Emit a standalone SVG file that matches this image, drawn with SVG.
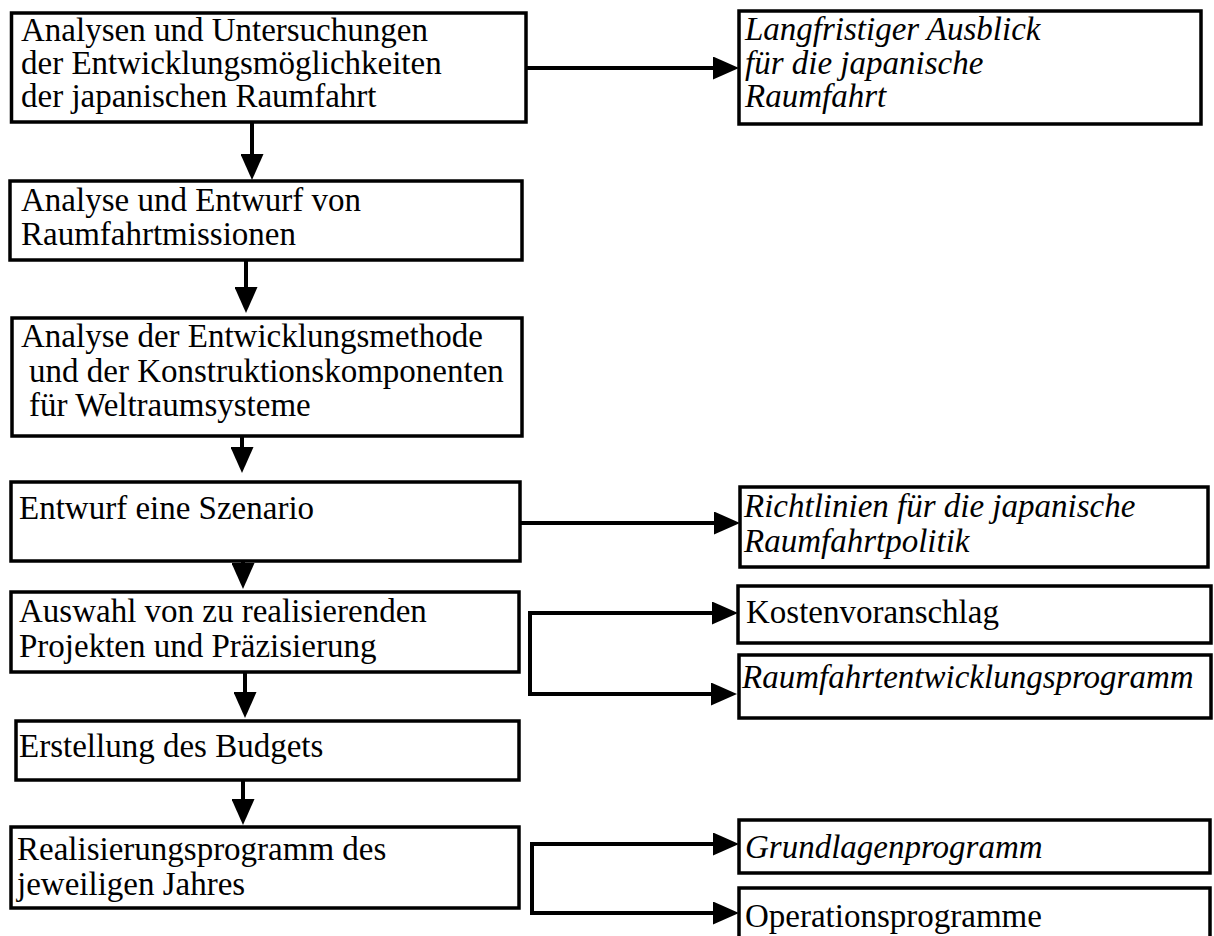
<svg xmlns="http://www.w3.org/2000/svg" width="1214" height="936" viewBox="0 0 1214 936">
<style>
.box{fill:#fff;stroke:#000;stroke-width:3.5}
.t{font-family:"Liberation Serif","Times New Roman",serif;font-size:33px;fill:#000}
.i{font-style:italic}
.c{fill:none;stroke:#000;stroke-width:4;marker-end:url(#ah)}
</style>
<defs>
<marker id="ah" markerUnits="userSpaceOnUse" markerWidth="26" markerHeight="23" refX="16" refY="11.5" orient="auto" viewBox="0 0 26 23">
<path d="M0,0 L26,11.5 L0,23 z" fill="#000"/>
</marker>
</defs>
<rect width="1214" height="936" fill="#fff"/>
<g id="connectors">
<path class="c" d="M252,122 V170"/>
<path class="c" d="M246,260 V303"/>
<path class="c" d="M242,436 V463"/>
<path class="c" d="M243,561 V579"/>
<path class="c" d="M245,672 V708"/>
<path class="c" d="M243,780 V815"/>
<path class="c" d="M526,68 H729"/>
<path class="c" d="M520,523 H730"/>
<path class="c" d="M530,654 V613 H728"/>
<path class="c" d="M530,654 V694 H727"/>
<path class="c" d="M532,878 V844 H729"/>
<path class="c" d="M532,878 V913 H729"/>
</g>
<g id="n1"><rect class="box" x="11.5" y="13" width="514.5" height="109"/>
<text class="t" x="21" y="41">Analysen und Untersuchungen</text>
<text class="t" x="21" y="74">der Entwicklungsmöglichkeiten</text>
<text class="t" x="21" y="107">der japanischen Raumfahrt</text></g>
<g id="n2"><rect class="box" x="10" y="181" width="512" height="79"/>
<text class="t" x="21" y="211">Analyse und Entwurf von</text>
<text class="t" x="21" y="245">Raumfahrtmissionen</text></g>
<g id="n3"><rect class="box" x="12" y="318" width="510" height="118"/>
<text class="t" x="21" y="347">Analyse der Entwicklungsmethode</text>
<text class="t" x="29" y="382">und der Konstruktionskomponenten</text>
<text class="t" x="29" y="416">für Weltraumsysteme</text></g>
<g id="n4"><rect class="box" x="11" y="482" width="509" height="79"/>
<text class="t" x="19" y="519">Entwurf eine Szenario</text></g>
<g id="n5"><rect class="box" x="11" y="592" width="508" height="80"/>
<text class="t" x="19" y="622">Auswahl von zu realisierenden</text>
<text class="t" x="19" y="657">Projekten und Präzisierung</text></g>
<g id="n6"><rect class="box" x="16" y="721" width="503" height="59"/>
<text class="t" x="19" y="757">Erstellung des Budgets</text></g>
<g id="n7"><rect class="box" x="11" y="827" width="508" height="81"/>
<text class="t" x="17" y="860">Realisierungsprogramm des</text>
<text class="t" x="17" y="895">jeweiligen Jahres</text></g>
<g id="r1"><rect class="box" x="739" y="11" width="462" height="113"/>
<text class="t i" x="745" y="40">Langfristiger Ausblick</text>
<text class="t i" x="745" y="74">für die japanische</text>
<text class="t i" x="745" y="107">Raumfahrt</text></g>
<g id="r2"><rect class="box" x="740" y="487" width="468" height="80"/>
<text class="t i" x="744" y="517">Richtlinien für die japanische</text>
<text class="t i" x="744" y="552">Raumfahrtpolitik</text></g>
<g id="r3"><rect class="box" x="738" y="586" width="473" height="57"/>
<text class="t" x="746" y="623">Kostenvoranschlag</text></g>
<g id="r4"><rect class="box" x="739" y="655" width="472" height="63"/>
<text class="t i" x="742" y="688">Raumfahrtentwicklungsprogramm</text></g>
<g id="r5"><rect class="box" x="739" y="820" width="471" height="53"/>
<text class="t i" x="745" y="858">Grundlagenprogramm</text></g>
<g id="r6"><rect class="box" x="739" y="888" width="471" height="60"/>
<text class="t" x="745" y="927">Operationsprogramme</text></g>
</svg>
